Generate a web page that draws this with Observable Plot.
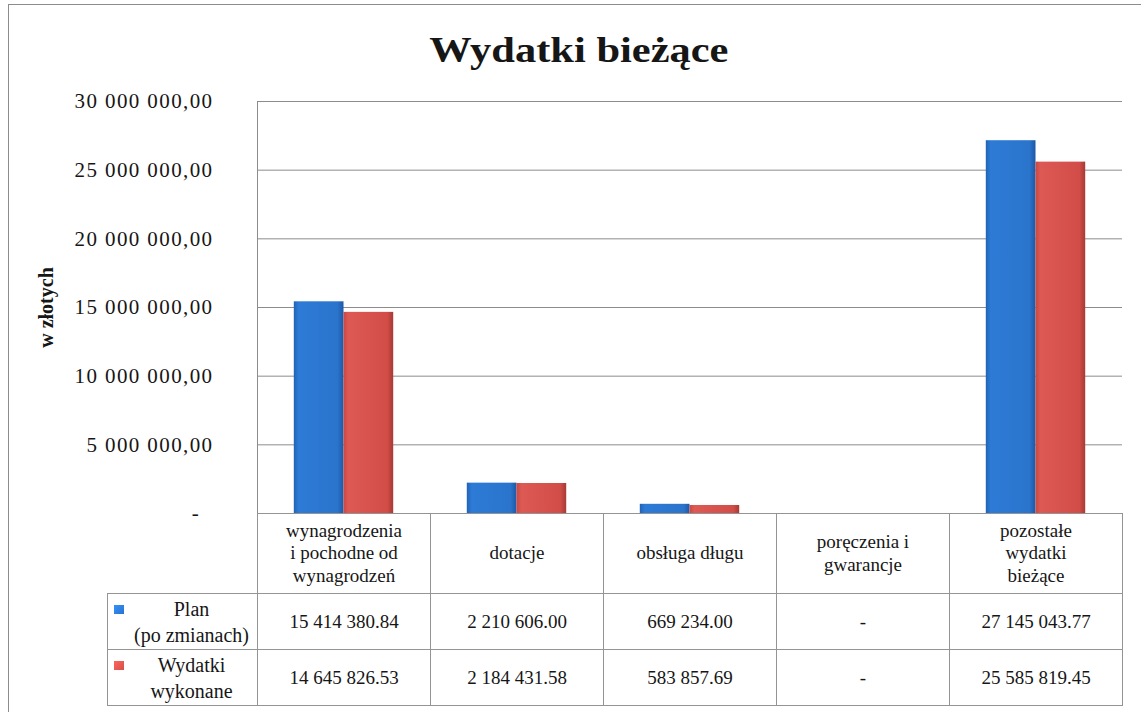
<!DOCTYPE html>
<html>
<head>
<meta charset="utf-8">
<script src="https://cdn.jsdelivr.net/npm/d3@7"></script>
<script src="https://cdn.jsdelivr.net/npm/@observablehq/plot@0.6"></script>
<style>
  body { margin: 0; background: #fff; }
  #wrap { position: relative; width: 1141px; height: 712px; overflow: hidden;
          font-family: "Liberation Serif", "Times New Roman", serif; color: #161616; background: #fff; }
  #border { position: absolute; left: 8px; top: 4px; width: 1300px; height: 900px;
            border: 1.5px solid #8c8c8c; }
  #title { position: absolute; left: 0; width: 1158px; top: 32px; text-align: center;
           font-size: 36px; line-height: 36px; font-weight: bold; }
  #title span { display: inline-block; transform: scaleX(1.18); }
  #chart { position: absolute; left: 0; top: 0; }
  #tbl { position: absolute; border-collapse: collapse; table-layout: fixed;
         font-family: "Liberation Serif", "Times New Roman", serif; color: #161616; }
  #tbl td { border: 1px solid #949494; text-align: center; padding: 0; vertical-align: middle; }
  #tbl td.head { font-size: 19px; line-height: 22.5px; }
  #tbl td.val { font-size: 19px; }
  #tbl td.corner { border-top: none; border-left: none; }
  #tbl td.leg { position: relative; font-size: 20px; line-height: 26px; padding-left: 18px; }
  #tbl td.leg i { position: absolute; left: 6px; top: 11px; width: 10px; height: 9px; }
</style>
</head>
<body>
<div id="wrap">
  <div id="border"></div>
  <div id="title"><span>Wydatki bieżące</span></div>
  <div id="chart"></div>
  <table id="tbl"></table>
</div>
<script>
// ---- data ----
const categories = ["wynagrodzenia i pochodne od wynagrodzeń", "dotacje", "obsługa długu", "poręczenia i gwarancje", "pozostałe wydatki bieżące"];
const categoryLines = [["wynagrodzenia", "i pochodne od", "wynagrodzeń"], ["dotacje"], ["obsługa długu"], ["poręczenia i", "gwarancje"], ["pozostałe", "wydatki", "bieżące"]];
const seriesNames = ["Plan (po zmianach)", "Wydatki wykonane"];
const seriesLabelLines = [["Plan", "(po zmianach)"], ["Wydatki", "wykonane"]];
const planValues = [15414380.84, 2210606.00, 669234.00, 0, 27145043.77];
const wykonaneValues = [14645826.53, 2184431.58, 583857.69, 0, 25585819.45];
const yTicks = [0, 5000000, 10000000, 15000000, 20000000, 25000000, 30000000];
const yLabel = "w złotych";
const seriesColors = ["#2a74cc", "#d4504b"];

const seriesValues = [planValues, wykonaneValues];
const rows = [];
categories.forEach((c, i) => seriesNames.forEach((s, j) => rows.push({category: c, series: s, value: seriesValues[j][i]})));

const axisFmt = d3.formatLocale({decimal: ",", thousands: " ", grouping: [3]}).format(",.2f");
const tableFmt = d3.formatLocale({decimal: ".", thousands: " ", grouping: [3]}).format(",.2f");
const tickFormat = d => d === 0 ? "-\u00a0\u00a0" : axisFmt(d);

const chart = Plot.plot({
  width: 1141,
  height: 712,
  marginLeft: 257,
  marginRight: 19,
  marginTop: 101,
  marginBottom: 199,
  style: {fontFamily: "Liberation Serif, Times New Roman, serif", color: "#161616", background: "transparent"},
  fx: {domain: categories, padding: 0, axis: null},
  x: {domain: seriesNames, paddingInner: 0, paddingOuter: 0.74, round: false, axis: null},
  y: {domain: [0, 30000000], axis: null},
  color: {domain: seriesNames, range: ["url(#gBlue)", "url(#gRed)"]},
  marks: [
    Plot.gridY(yTicks, {stroke: "#8c8c8c", strokeOpacity: 1, strokeWidth: 1}),
    Plot.frame({anchor: "left", facetAnchor: "left", stroke: "#8c8c8c"}),
    Plot.axisY(yTicks, {tickSize: 0, tickPadding: 44, tickFormat, fontSize: 21, label: null}),
    Plot.barY(rows, {fx: "category", x: "series", y: "value", fill: "series"}),
    Plot.text([yLabel], {facetAnchor: "left", frameAnchor: "left", text: d => d, dx: -211, rotate: -90,
                         fontWeight: "bold", fontSize: 20, lineAnchor: "middle", textAnchor: "middle"})
  ]
});

// gradients for bevelled bars
const svg = d3.select(chart);
const defs = svg.insert("defs", ":first-child");
const grads = [
  ["gBlue", ["#2262b8", "#2d7bd6", "#2a74cc", "#1d58a6"]],
  ["gRed", ["#c94843", "#dd5954", "#d24d48", "#a63a35"]]
];
for (const [id, c] of grads) {
  const g = defs.append("linearGradient").attr("id", id).attr("x1", 0).attr("x2", 1).attr("y1", 0).attr("y2", 0);
  [[0, c[0]], [0.1, c[1]], [0.88, c[2]], [1, c[3]]].forEach(([o, col]) =>
    g.append("stop").attr("offset", o).attr("stop-color", col));
}
svg.selectAll('g[aria-label="y-axis tick label"] text').style("letter-spacing", "1.4px");
document.getElementById("chart").appendChild(chart);

// data table below the plot, aligned to the fx scale
const fx = chart.scale("fx");
const colW = fx.bandwidth;
const plotLeft = fx.range[0];
const legendW = 150;
const tbl = d3.select("#tbl")
  .style("left", (plotLeft - legendW) + "px")
  .style("top", "513px")
  .style("width", (legendW + colW * categories.length) + "px");
const cg = tbl.append("colgroup");
cg.append("col").style("width", legendW + "px");
categories.forEach(() => cg.append("col").style("width", colW + "px"));

const hr = tbl.append("tr").style("height", "80px");
hr.append("td").attr("class", "corner");
categoryLines.forEach(lines => hr.append("td").attr("class", "head").html(lines.join("<br>")));

seriesNames.forEach((s, j) => {
  const tr = tbl.append("tr").style("height", "56px");
  const leg = tr.append("td").attr("class", "leg");
  leg.append("i").style("background", `linear-gradient(135deg, ${d3.color(seriesColors[j]).brighter(0.6)}, ${seriesColors[j]})`);
  leg.append("span").html(seriesLabelLines[j].join("<br>"));
  seriesValues[j].forEach(v => tr.append("td").attr("class", "val").text(v === 0 ? "-" : tableFmt(v)));
});
</script>
</body>
</html>
